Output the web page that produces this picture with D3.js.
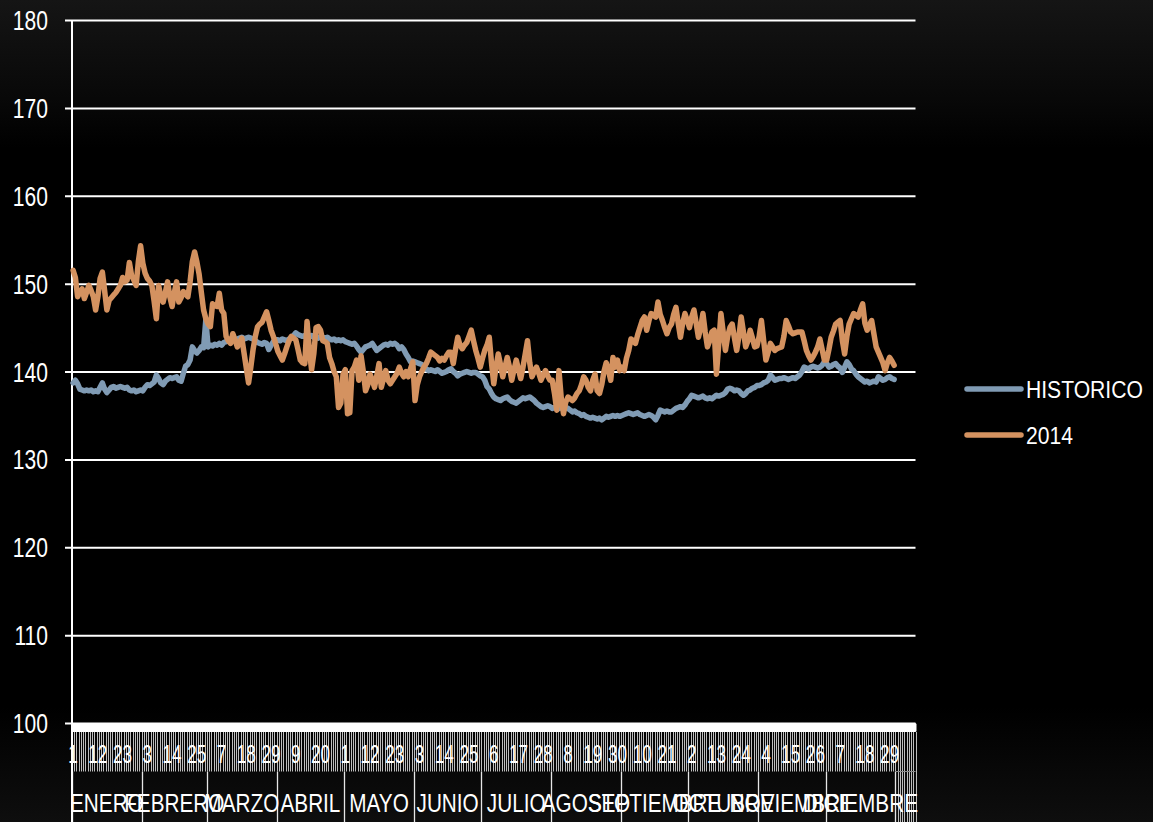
<!DOCTYPE html>
<html><head><meta charset="utf-8">
<script src="https://cdn.jsdelivr.net/npm/d3@7"></script>
<style>html,body{margin:0;padding:0;background:#000;overflow:hidden}</style>
</head><body><svg id="c" width="1153" height="822"></svg>
<script>
const months = ["ENERO","FEBRERO","MARZO","ABRIL","MAYO","JUNIO","JULIO","AGOSTO","SEPTIEMBRE","OCTUBRE","NOVIEMBRE","DICIEMBRE"];
const monthDays = [31,29,31,30,31,30,31,31,30,31,30,31];
const yTicks = [100,110,120,130,140,150,160,170,180];
const seriesNames = ["HISTORICO","2014"];
const tickEvery = 11;
const blankSlots = 9;

const historico = [
 138.7,139.0,138.6,138.0,137.9,137.8,137.9,137.8,137.9,137.7,137.8,137.7,138.2,138.7,138.0,137.6,137.9,138.2,138.3,138.1,138.2,138.3,138.2,138.1,138.2,137.9,137.8,137.9,137.7,137.8,137.9,
 137.8,138.2,138.5,138.4,138.6,138.8,139.6,139.2,138.7,138.5,138.9,139.1,139.3,139.2,139.3,139.4,139.0,138.9,139.8,140.6,140.8,141.3,142.8,142.4,142.1,142.4,142.8,142.7,145.9,
 142.8,143.0,142.9,143.1,143.0,143.2,143.0,143.3,143.4,143.5,143.4,143.6,143.5,143.7,143.8,143.9,143.7,143.8,143.9,143.8,143.7,143.5,143.3,143.2,143.1,143.3,143.2,142.5,143.0,143.4,143.6,
 143.6,143.5,143.7,143.6,143.5,143.7,143.8,144.1,144.4,144.2,144.1,144.0,144.1,143.9,144.0,144.1,143.9,144.0,143.8,144.0,143.9,143.8,143.9,143.7,143.6,143.7,143.5,143.6,143.5,143.6,
 143.4,143.3,143.2,143.1,143.2,142.9,142.5,142.2,142.5,142.8,142.9,143.0,143.2,142.8,142.4,142.6,142.8,143.0,143.1,143.0,143.2,143.1,143.2,143.0,142.6,142.8,142.5,142.0,141.6,141.1,141.2,
 141.1,141.0,140.9,140.8,140.5,140.3,140.1,140.2,140.1,140.0,140.2,140.0,139.8,139.9,140.0,140.2,140.3,140.0,139.8,139.5,139.7,139.8,139.9,140.0,139.9,139.8,139.9,139.9,139.7,139.5,
 139.4,139.0,138.3,138.0,137.5,137.1,136.9,136.8,136.7,136.9,137.0,137.1,136.8,136.6,136.5,136.4,136.6,136.8,137.0,136.9,137.0,137.1,136.9,136.7,136.4,136.2,136.0,135.9,136.0,136.1,136.0,
 135.8,135.9,136.0,135.8,135.9,136.0,135.9,135.8,135.6,135.4,135.5,135.3,135.2,135.0,135.1,134.9,134.8,134.7,134.8,134.7,134.6,134.7,134.5,134.7,134.9,134.8,134.9,135.0,134.9,135.0,134.9,
 135.0,135.1,135.2,135.3,135.2,135.1,135.2,135.3,135.1,135.0,134.9,135.0,135.1,135.0,134.8,134.5,135.0,135.6,135.5,135.4,135.5,135.4,135.4,135.6,135.8,135.9,136.0,135.9,136.2,136.6,
 136.9,137.3,137.2,137.1,137.0,137.1,137.2,137.0,136.9,137.0,136.9,137.1,137.3,137.2,137.3,137.4,137.6,138.0,138.1,138.0,137.8,137.9,137.8,137.5,137.3,137.5,137.8,137.9,138.1,138.2,138.4,
 138.4,138.5,138.7,138.8,139.0,139.6,139.3,139.0,139.1,139.2,139.2,139.3,139.2,139.1,139.2,139.3,139.2,139.4,139.6,140.0,140.5,140.4,140.3,140.5,140.6,140.5,140.4,140.5,140.7,141.1,
 140.9,140.5,140.6,140.8,140.9,140.6,140.4,139.9,140.5,141.1,140.8,140.3,140.1,139.7,139.4,139.2,139.0,138.8,138.9,138.7,138.8,138.9,138.8,139.4,139.2,139.0,139.1,139.3,139.4,139.2,139.1
];

const serie2014 = [
 151.5,150.7,148.5,149.0,149.4,148.3,149.0,149.8,149.2,148.5,147.0,148.5,150.6,151.3,149.2,147.0,148.1,148.4,148.7,149.0,149.4,149.8,150.7,150.2,150.4,152.4,150.9,150.4,149.8,152.5,154.3,
 152.3,151.2,150.6,150.3,149.8,148.0,146.0,149.8,148.5,147.9,149.0,150.2,148.5,147.4,149.0,150.2,147.9,148.4,149.1,148.8,148.5,150.2,152.5,153.6,152.5,151.1,149.0,147.0,146.0,
 145.4,145.1,147.7,147.5,147.4,148.9,147.0,146.6,144.0,143.5,143.2,144.3,143.6,142.8,143.3,143.8,142.1,140.4,138.7,140.5,142.5,144.0,145.1,145.4,145.6,146.2,146.8,145.8,144.7,144.0,143.2,
 142.3,141.8,141.3,142.0,142.8,143.5,144.0,143.8,143.6,142.5,141.3,141.0,140.9,145.7,142.5,140.2,142.0,145.0,145.1,144.7,143.5,143.4,143.2,141.6,140.9,140.0,139.4,135.9,136.4,139.7,
 140.2,135.2,135.3,140.1,140.5,141.3,139.0,141.8,140.0,137.8,138.5,139.7,139.0,138.2,139.5,140.9,138.2,139.2,140.1,139.0,138.6,139.0,139.4,139.8,140.5,139.8,139.4,140.0,139.4,140.3,141.1,
 136.7,138.5,139.4,140.0,140.5,140.9,141.5,142.2,142.0,141.8,141.6,141.2,141.5,141.3,141.8,142.2,142.2,140.9,142.5,143.9,143.0,142.6,143.0,143.3,144.0,144.7,143.5,142.4,141.5,140.5,
 141.5,142.4,143.0,143.9,141.0,138.6,140.5,142.0,140.8,139.4,140.5,141.6,140.5,139.0,140.2,141.3,140.2,139.2,140.5,142.0,143.5,141.0,139.4,140.0,140.5,139.8,139.0,139.6,140.1,139.5,139.0,
 139.0,137.5,135.6,140.1,137.0,135.2,136.5,137.1,136.9,136.7,137.0,137.5,137.8,138.5,139.4,139.0,138.2,137.8,139.0,139.7,137.8,137.5,138.5,140.0,141.0,140.1,139.0,141.6,140.5,141.3,140.1,
 140.5,140.1,141.5,142.4,143.7,143.5,143.2,144.2,145.0,145.8,146.2,144.7,145.8,146.6,146.4,146.2,147.9,146.5,145.8,145.0,144.3,145.0,145.4,146.5,147.3,145.5,143.9,145.5,146.6,145.8,
 145.0,146.2,147.0,145.5,143.9,145.0,146.6,144.5,142.8,143.5,144.5,144.7,139.7,143.0,146.6,144.5,142.4,144.0,145.0,145.4,143.8,142.4,144.0,146.2,144.5,142.8,143.5,144.7,143.8,142.8,142.9,
 144.0,145.8,143.5,141.3,142.2,143.2,142.8,142.4,142.6,142.7,142.8,144.0,145.8,145.2,144.5,144.3,144.4,144.5,144.5,144.5,143.5,142.4,141.8,141.3,141.7,142.2,142.8,143.7,142.5,141.3,
 141.3,142.5,143.9,144.6,145.4,145.6,145.8,143.5,142.0,144.0,145.4,146.0,146.6,146.4,146.2,147.0,147.7,145.5,144.7,145.3,145.8,144.3,142.8,142.2,141.6,141.0,140.1,141.0,141.6,141.2,140.7
];

const colors = ["#809bb4", "#d49260"];
const FONT = "'Liberation Sans', Arial, Helvetica, sans-serif";

// build categories
const cats = [];
months.forEach((m, mi) => { for (let d = 1; d <= monthDays[mi]; d++) cats.push({month: mi, day: d}); });
const nDays = cats.length;
for (let k = 0; k < blankSlots; k++) cats.push({month: -1, day: null});

const svg = d3.select("#c");
const defs = svg.append("defs");
const bg = defs.append("linearGradient").attr("id", "bg").attr("x1", 0).attr("y1", 0).attr("x2", 0).attr("y2", 1);
[[0, "#151515"], [0.12, "#080808"], [0.18, "#000"], [0.86, "#000"], [1, "#0e0e0e"]].forEach(s =>
  bg.append("stop").attr("offset", s[0]).attr("stop-color", s[1]));
svg.append("rect").attr("width", 1153).attr("height", 822).attr("fill", "url(#bg)");

const x = d3.scaleBand().domain(d3.range(cats.length)).range([72, 915.5]).paddingInner(0).paddingOuter(0);
const y = d3.scaleLinear().domain([100, 180]).range([723, 20]);
const cx = i => x(i) + x.bandwidth() / 2;
const plotL = 72, plotR = 915.5;

// gridlines + y labels via axis
const yAxis = d3.axisLeft(y).tickValues(yTicks).tickSize(-(plotR - plotL)).tickSizeOuter(0).tickFormat(d3.format("d"));
const gy = svg.append("g").attr("transform", `translate(${plotL},0)`).call(yAxis);
gy.select(".domain").remove();
gy.selectAll(".tick line").attr("x1", -7).attr("stroke", "#fff").attr("stroke-width", 2);
gy.selectAll(".tick text")
  .attr("x", null).attr("dy", null)
  .attr("transform", "translate(-24,9.5) scale(0.78,1)")
  .attr("fill", "#fff").style("font-family", FONT).style("font-size", "27px");

// x axis area
const bandTop = 723, bandMid = 732, bandBot = 771.5, bottom = 822;
// day separator stripes
svg.append("g").selectAll("line").data(d3.range(cats.length + 1)).join("line")
  .attr("x1", i => Math.round(i < cats.length ? x(i) : plotR) + 0.5)
  .attr("x2", i => Math.round(i < cats.length ? x(i) : plotR) + 0.5)
  .attr("y1", bandMid)
  .attr("y2", i => i > nDays ? bottom : bandBot)
  .attr("stroke", "#bdbdbd").attr("stroke-width", 1);

// day tick labels
const dayLabels = cats.map((c, i) => ({c, i})).filter(o => o.c.day !== null && o.i % tickEvery === 0);
svg.append("g").selectAll("text").data(dayLabels).join("text")
  .attr("transform", o => `translate(${cx(o.i)},763) scale(0.66,1)`)
  .attr("text-anchor", "middle").attr("fill", "#fff")
  .style("font-family", FONT).style("font-size", "26px")
  .text(o => o.c.day);

// white tick band
svg.append("rect").attr("x", plotL).attr("y", bandTop).attr("width", plotR - plotL + 1).attr("height", bandMid - bandTop)
  .attr("rx", 1.5).attr("fill", "#fff");

// month separators
const monthStarts = [];
let acc = 0;
monthDays.forEach(n => { monthStarts.push(acc); acc += n; });
const bounds = monthStarts.concat([acc]);
svg.append("g").selectAll("line").data(bounds).join("line")
  .attr("x1", b => Math.round(x(b)) + 0.5).attr("x2", b => Math.round(x(b)) + 0.5)
  .attr("y1", bandBot).attr("y2", bottom)
  .attr("stroke", "#e6e6e6").attr("stroke-width", 1.3);
svg.append("line").attr("x1", x(nDays)).attr("x2", plotR).attr("y1", bandBot).attr("y2", bandBot)
  .attr("stroke", "#8a8a8a").attr("stroke-width", 1);

// month labels
svg.append("g").selectAll("text").data(months).join("text")
  .attr("transform", (m, mi) => `translate(${(x(bounds[mi]) + x(bounds[mi + 1])) / 2},812) scale(0.83,1)`)
  .attr("text-anchor", "middle").attr("fill", "#fff")
  .style("font-family", FONT).style("font-size", "25px")
  .text(m => m);

// y axis line
svg.append("line").attr("x1", plotL).attr("x2", plotL).attr("y1", 20).attr("y2", bottom)
  .attr("stroke", "#fff").attr("stroke-width", 2);

// series
const line = d3.line().x((v, i) => cx(i)).y(v => y(v)).curve(d3.curveLinear);
[historico, serie2014].forEach((data, si) => {
  svg.append("path").datum(data).attr("d", line)
    .attr("fill", "none").attr("stroke", colors[si]).attr("stroke-width", 5.5)
    .attr("stroke-linejoin", "round").attr("stroke-linecap", "round");
});

// legend
const legendY = [389, 435];
seriesNames.forEach((name, si) => {
  svg.append("line").attr("x1", 967).attr("x2", 1021).attr("y1", legendY[si]).attr("y2", legendY[si])
    .attr("stroke", colors[si]).attr("stroke-width", 5.5).attr("stroke-linecap", "round");
  svg.append("text").attr("transform", `translate(1026,${legendY[si] + 8.5}) scale(0.88,1)`)
    .attr("fill", "#fff").style("font-family", FONT).style("font-size", "24px").text(name);
});
</script></body></html>
